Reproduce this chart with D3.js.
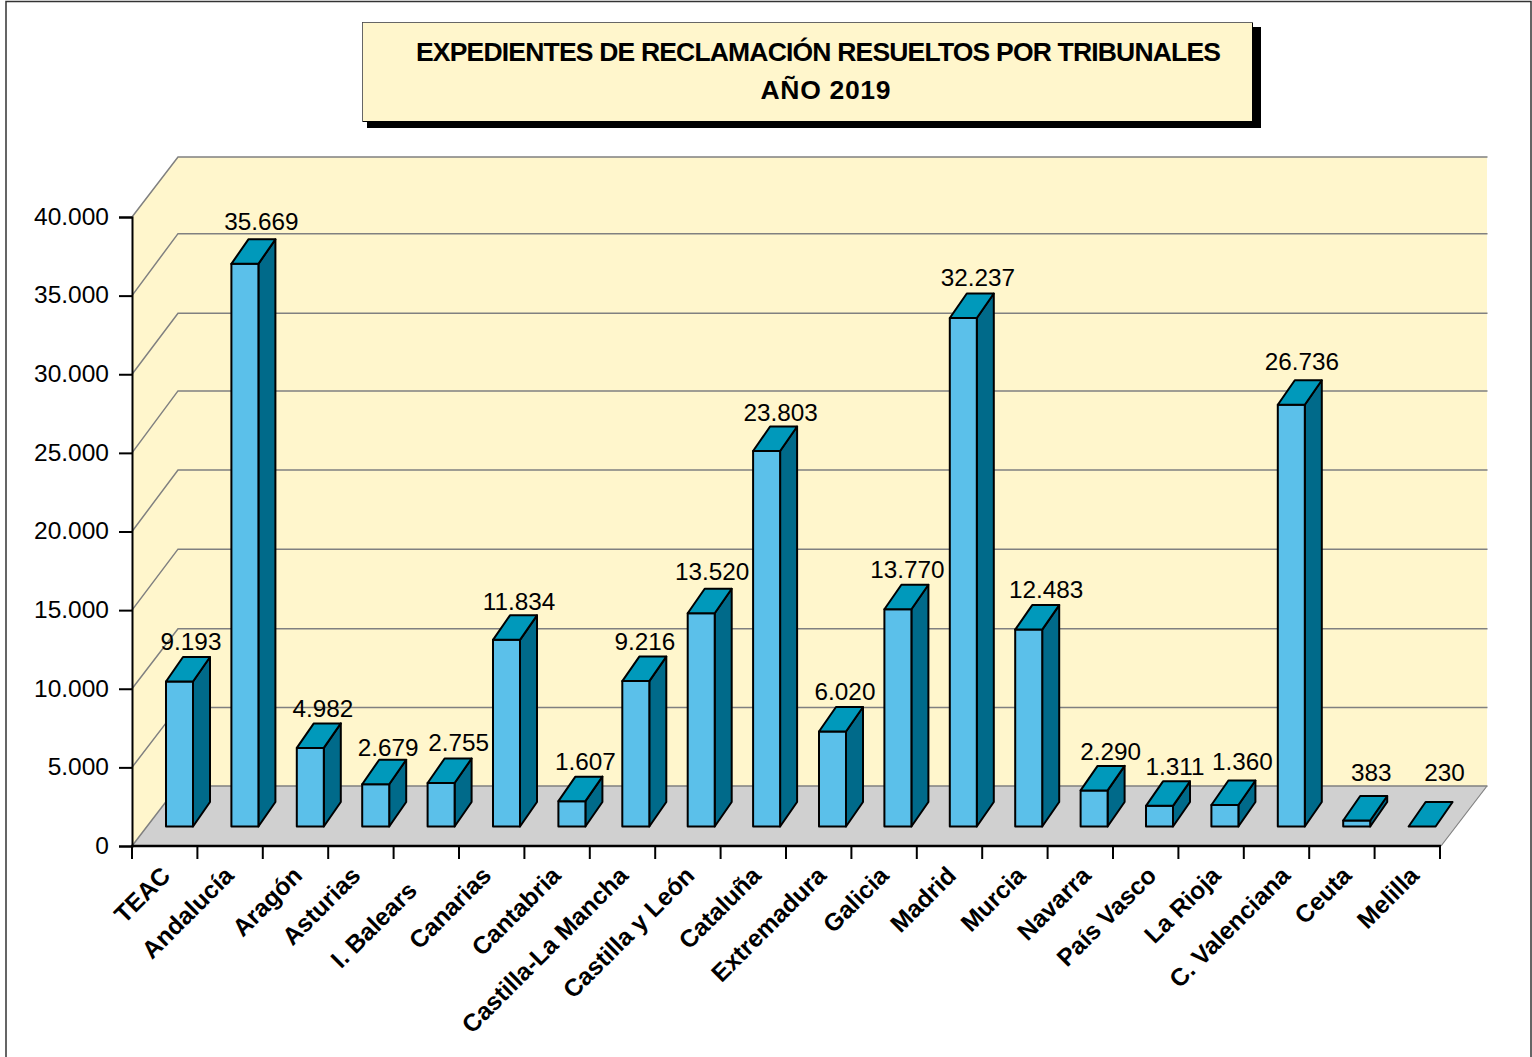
<!DOCTYPE html>
<html><head><meta charset="utf-8">
<script src="https://cdn.jsdelivr.net/npm/d3@7"></script>
<style>
html,body{margin:0;padding:0;background:#fff}
svg{display:block}
text{font-family:"Liberation Sans",Arial,sans-serif;fill:#000}
</style></head><body>
<svg id="c" width="1532" height="1057"></svg>
<script>
(function(){
const categories = ["TEAC","Andalucía","Aragón","Asturias","I. Balears","Canarias","Cantabria","Castilla-La Mancha","Castilla y León","Cataluña","Extremadura","Galicia","Madrid","Murcia","Navarra","País Vasco","La Rioja","C. Valenciana","Ceuta","Melilla"];
const values = [9193,35669,4982,2679,2755,11834,1607,9216,13520,23803,6020,13770,32237,12483,2290,1311,1360,26736,383,230];
const yTicks = [0,5000,10000,15000,20000,25000,30000,35000,40000];
const titleLines = ["EXPEDIENTES DE RECLAMACIÓN RESUELTOS POR TRIBUNALES","AÑO 2019"];
// layout quirks of the original: hand-placed labels, uneven bar and gridline rounding
const labelNudgeX = [3,8,4,4,9,4,5,-1,1,4,3,0,5,8,7,6,8,2,6,14];
const labelNudgeY = [0,-2,1,3,-1,2,0,0,-1.5,1,0,0,0,0,1,1,-4,-3,-8,-14];
const barNudgeX = [0,0,0,0,0,0,0,-1.5,-1.5,-1.5,-1,-1,-1,-1,-1,-1,-1,0,0,0];
const gridBackNudge = [0,0,0,-1,-1.5,-2,-1,-2,0];
const catNudgeX = [0,-2,1,-6,-15,-6,-2,0,1,2,2,-1,1,5,5,5,4,8,4,6];
const catNudgeY = [0,0,0,0,15,0,0,0,0,0,0,0,0,0,0,0,0,0,0,0];

const svg = d3.select("#c");
const L=132, R=1440, Y0=846, Y1=217, DX=46, DY=60;
const barDX=17, barDY=24.5, floorRise=19.5, barInset=34, barW=27, flatBelow=300;
const colors={wall:"#FFF6CC",floor:"#D0D0D0",grid:"#808080",front:"#5BC0EA",top:"#0099BB",side:"#006A8A"};

const x = d3.scaleBand().domain(categories).range([L,R]);
const y = d3.scaleLinear().domain([0,40000]).range([Y0,Y1]);
const barH = d3.scaleLinear().domain([0,40000]).range([0,631]);
const fmt = d3.formatLocale({decimal:",",thousands:".",grouping:[3],currency:["",""]}).format(",d");

// outer frame
svg.append("path").attr("d","M6,1057V1.5H1531V1057").attr("fill","none").attr("stroke","#333").attr("stroke-width",1.5);

// title box
svg.append("rect").attr("x",367).attr("y",27).attr("width",894).attr("height",101).attr("fill","#000");
svg.append("rect").attr("x",362.5).attr("y",22.5).attr("width",890).attr("height",99).attr("fill","#FFF6CC").attr("stroke","#000").attr("stroke-width",1);
svg.append("path").attr("d","M362.5,122V22.5H1253").attr("fill","none").attr("stroke","#666").attr("stroke-width",1);
svg.selectAll("text.title").data(titleLines).join("text").attr("class","title")
  .attr("x",(d,i)=>i?825.5:818.5).attr("y",(d,i)=>i?99:61)
  .attr("text-anchor","middle").attr("font-weight","bold").attr("font-size",26.5)
  .attr("textLength",(d,i)=>i?130:805).attr("lengthAdjust","spacing").text(d=>d);

// walls and floor
const yTop=y(40000), base=y(0);
svg.append("polygon").attr("fill",colors.wall).attr("points",[[L,yTop],[L+DX,yTop-DY],[L+DX,base-DY],[L,base]].join(" "));
svg.append("rect").attr("fill",colors.wall).attr("x",L+DX).attr("y",yTop-DY).attr("width",R-L+1).attr("height",base-yTop);
svg.append("polygon").attr("fill",colors.floor).attr("points",[[L,base],[R+1,base],[R+1+DX,base-DY],[L+DX,base-DY]].join(" "));
// gridlines
const gridG=svg.append("g").attr("fill","none").attr("stroke",colors.grid);
gridG.selectAll("path").data(yTicks).join("path").attr("stroke-width",1.5)
  .attr("d",(d,i)=>`M${L},${y(d)}L${L+DX},${y(d)-DY+gridBackNudge[i]}H${R+DX+1.5}`);
gridG.append("path").attr("stroke-width",1.2).attr("d",`M${R+1},${base}L${R+1+DX},${base-DY}`);

// bars
const bars=svg.append("g").attr("stroke","#000").attr("stroke-width",2).attr("stroke-linejoin","round");
const geo=c=>{
  const i=categories.indexOf(c), v=values[i];
  const lx=x(c)+barInset, xl=lx+barNudgeX[i], yb=base-floorRise;
  // the original shows bars this small as a flat top only
  const h=v<flatBelow?0:barH(v);
  return {lx,xl,xr:xl+barW,yb,yt:yb-h,h};
};
categories.forEach(c=>{
  const g=geo(c), gp=bars.append("g");
  if(g.h>0){
    gp.append("polygon").attr("fill",colors.side).attr("points",[[g.xr,g.yt],[g.xr+barDX,g.yt-barDY],[g.xr+barDX,g.yb-barDY],[g.xr,g.yb]].join(" "));
    gp.append("polygon").attr("fill",colors.front).attr("points",[[g.xl,g.yt],[g.xr,g.yt],[g.xr,g.yb],[g.xl,g.yb]].join(" "));
  }
  gp.append("polygon").attr("fill",colors.top).attr("points",[[g.xl,g.yt],[g.xr,g.yt],[g.xr+barDX,g.yt-barDY],[g.xl+barDX,g.yt-barDY]].join(" "));
});

// value labels
svg.selectAll("text.val").data(categories).join("text").attr("class","val")
  .attr("x",(c,i)=>geo(c).lx+(barW+barDX)/2+labelNudgeX[i])
  .attr("y",(c,i)=>geo(c).yt-barDY-7+labelNudgeY[i])
  .attr("text-anchor","middle").attr("font-size",24.3).text((c,i)=>fmt(values[i]));

// axes
const ay=svg.append("g").attr("transform",`translate(${L},0)`)
  .call(d3.axisLeft(y).tickValues(yTicks).tickFormat(fmt).tickSize(13).tickPadding(10));
ay.selectAll("line,path").attr("stroke","#000").attr("stroke-width",2);
ay.selectAll("text").attr("font-size",24.5).attr("dy","0.3em");
ay.attr("font-family",null);

const ax=svg.append("g").attr("transform",`translate(0,${Y0})`);
const edges=categories.map(c=>x(c)).concat([R]);
ax.append("line").attr("x1",L-1).attr("x2",R+1).attr("stroke","#000").attr("stroke-width",2.5);
ax.selectAll("line.t").data(edges).join("line").attr("class","t").attr("x1",d=>d).attr("x2",d=>d).attr("y2",13).attr("stroke","#000").attr("stroke-width",2);
ax.selectAll("text").data(categories).join("text")
  .attr("transform",(c,i)=>`translate(${x(c)+x.bandwidth()/2+1+catNudgeX[i]},${25+catNudgeY[i]}) rotate(-45)`)
  .attr("text-anchor","end").attr("font-weight","bold").attr("font-size",24.6).attr("dy","0.35em").text(c=>c);
})();
</script></body></html>
